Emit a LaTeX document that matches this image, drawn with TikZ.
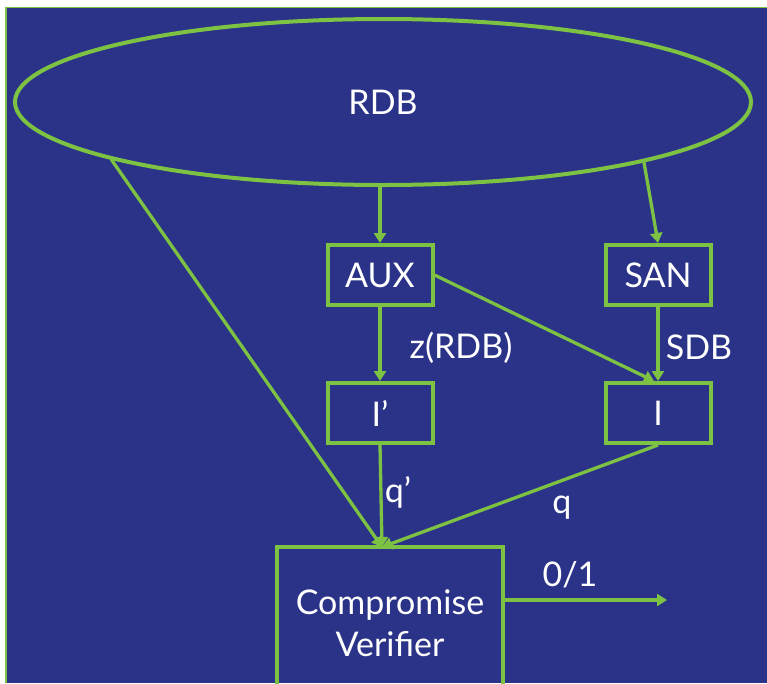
\documentclass[tikz,border=0pt]{standalone}
\usepackage{fontspec}
\setmainfont{Lato}
\usetikzlibrary{arrows.meta,shapes.geometric}
\definecolor{bg}{HTML}{2B3388}
\definecolor{gr}{HTML}{7DC242}
\begin{document}
\begin{tikzpicture}[x=1pt,y=-1pt,
  txt/.style={text=white,font=\fontsize{34}{42}\selectfont,inner sep=0pt},
  box/.style={txt,draw=gr,line width=4pt,minimum width=105pt,minimum height=60pt},
  conn/.style={draw=gr,line width=3.3pt,-{Triangle[length=10pt,width=12pt]}}]
\useasboundingbox (0,0) rectangle (767,683);
\fill[white] (0,0) rectangle (767,683);
\fill[bg] (6,7) rectangle (767,683);
\draw[gr,line width=1pt] (6,7.5) -- (767,7.5);
\draw[gr,line width=2pt] (6,7) -- (6,683);

\node[txt,ellipse,draw=gr,line width=4pt,minimum width=736pt,minimum height=166pt] (RDB) at (383,102) {RDB};
\node[box] (AUX) at (380,275) {AUX};
\node[box] (SAN) at (658,275) {SAN};
\node[box] (Ip) at (380,413) {I’};
\node[box] (I) at (658,413) {I};
\node[box,minimum width=226pt,minimum height=153pt,align=center] (CV) at (390,623.5) {Compromise\\Verifier};

\coordinate (tip) at (382,547);
\coordinate (out) at (667,600);

\draw[conn] (RDB.-168.3) -- (tip);
\draw[conn] (RDB.south -| AUX.north) -- (AUX.north);
\draw[conn] (RDB.-13) -- (SAN.north);
\draw[conn] (AUX.south) -- (Ip.north);
\draw[conn] (AUX.east) -- ([xshift=-4pt]I.north);
\draw[conn] (SAN.south) -- (I.north);
\draw[conn] (Ip.south) -- (tip);
\draw[conn] (I.south) -- (tip);
\draw[conn] (out -| CV.east) -- (out);

\node[txt] (lz) at (461,348) {z(RDB)};
\node[txt] (ls) at (699,347) {SDB};
\node[txt] (lqp) at (398,492) {q’};
\node[txt] (lq) at (562,508) {q};
\node[txt] (lo) at (570,575) {0/1};
\end{tikzpicture}
\end{document}
